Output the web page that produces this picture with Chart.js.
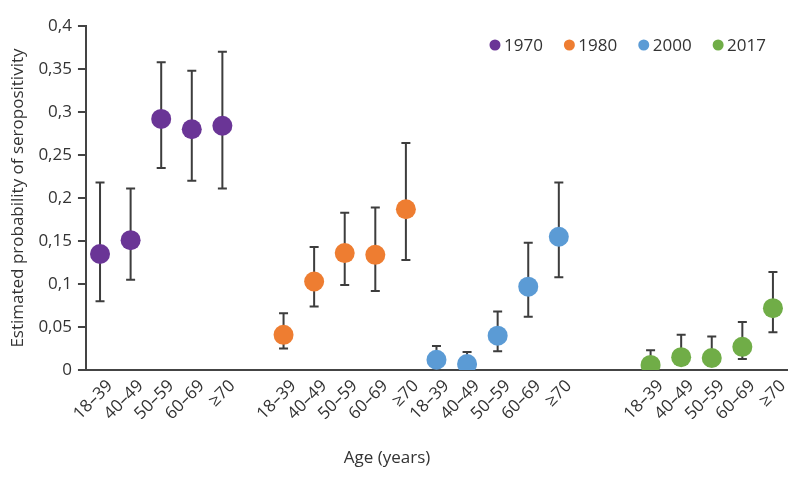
<!DOCTYPE html>
<html>
<head>
<meta charset="utf-8">
<script src="https://cdn.jsdelivr.net/npm/chart.js@4/dist/chart.umd.min.js"></script>
<style>
  html, body { margin: 0; padding: 0; background: #fff; }
  #wrap { width: 800px; height: 492px; }
</style>
</head>
<body>
<div id="wrap"><canvas id="myChart"></canvas></div>
<script>
// age groups shown for every survey year
const ageLabels = ["18–39", "40–49", "50–59", "60–69", "≥70"];
const years = ["1970", "1980", "2000", "2017"];
// first slot of each year group on the x axis
const groupStart = [0, 6, 11, 18];

const est1970 = [0.135, 0.151, 0.292, 0.280, 0.284];
const low1970 = [0.080, 0.105, 0.235, 0.220, 0.211];
const high1970 = [0.218, 0.211, 0.358, 0.348, 0.370];

const est1980 = [0.041, 0.103, 0.136, 0.134, 0.187];
const low1980 = [0.025, 0.074, 0.099, 0.092, 0.128];
const high1980 = [0.066, 0.143, 0.183, 0.189, 0.264];

const est2000 = [0.012, 0.007, 0.040, 0.097, 0.155];
const low2000 = [0.004, 0.002, 0.022, 0.062, 0.108];
const high2000 = [0.028, 0.021, 0.068, 0.148, 0.218];

const est2017 = [0.006, 0.015, 0.014, 0.027, 0.072];
const low2017 = [0.001, 0.006, 0.005, 0.013, 0.044];
const high2017 = [0.023, 0.041, 0.039, 0.056, 0.114];

const yTicks = [0, 0.05, 0.1, 0.15, 0.2, 0.25, 0.3, 0.35, 0.4];

const colors = ["#6a3596", "#ee7d31", "#5b9bd5", "#70ad47"];
const ests = [est1970, est1980, est2000, est2017];
const lows = [low1970, low1980, low2000, low2017];
const highs = [high1970, high1980, high2000, high2017];

const FONT = "'Open Sans', 'Noto Sans', sans-serif";

let tickPos = [];
let tickText = {};
groupStart.forEach((g) => {
  ageLabels.forEach((a, i) => {
    tickPos.push(g + i);
    tickText[g + i] = a;
  });
});

let datasets = years.map((y, k) => ({
  label: y,
  data: ests[k].map((v, i) => ({ x: groupStart[k] + i, y: v })),
  low: lows[k],
  high: highs[k],
  showLine: false,
  pointRadius: 10,
  pointHoverRadius: 10,
  pointBackgroundColor: colors[k],
  pointBorderWidth: 0,
  backgroundColor: colors[k],
  borderColor: colors[k],
}));

const errorBars = {
  id: "errorBars",
  beforeDatasetsDraw(chart) {
    const ctx = chart.ctx;
    const xs = chart.scales.x;
    const ys = chart.scales.y;
    ctx.save();
    ctx.strokeStyle = "#3d3d3d";
    ctx.lineWidth = 2;
    chart.data.datasets.forEach((ds) => {
      ds.data.forEach((p, i) => {
        let x = xs.getPixelForValue(p.x);
        let top = ys.getPixelForValue(ds.high[i]);
        let bot = ys.getPixelForValue(ds.low[i]);
        ctx.beginPath();
        ctx.moveTo(x, top);
        ctx.lineTo(x, bot);
        ctx.moveTo(x - 4.5, top);
        ctx.lineTo(x + 4.5, top);
        ctx.moveTo(x - 4.5, bot);
        ctx.lineTo(x + 4.5, bot);
        ctx.stroke();
      });
    });
    ctx.restore();
  },
};

// legend row in the top right of the plot, and the x axis title
const extras = {
  id: "extras",
  afterDraw(chart) {
    const ctx = chart.ctx;
    const area = chart.chartArea;
    ctx.save();
    ctx.font = "17px " + FONT;
    ctx.textBaseline = "middle";
    let y = area.top + 19;
    let x = area.right - 21;
    let items = chart.data.datasets.slice().reverse();
    items.forEach((ds) => {
      let w = ctx.measureText(ds.label).width;
      ctx.fillStyle = "#333";
      ctx.textAlign = "left";
      ctx.fillText(ds.label, x - w, y + 1);
      ctx.fillStyle = ds.pointBackgroundColor;
      ctx.beginPath();
      ctx.arc(x - w - 9, y, 5.5, 0, Math.PI * 2);
      ctx.fill();
      x = x - w - 9 - 5.5 - 21;
    });
    ctx.fillStyle = "#333";
    ctx.textAlign = "center";
    ctx.textBaseline = "alphabetic";
    ctx.fillText("Age (years)", 387, 463);
    ctx.restore();
  },
};

Chart.defaults.font.family = FONT;
Chart.defaults.color = "#333";

var ctx = document.getElementById("myChart").getContext("2d");
var myChart = new Chart(ctx, {
  type: "scatter",
  data: { datasets: datasets },
  plugins: [errorBars, extras],
  options: {
    responsive: true,
    maintainAspectRatio: false,
    animation: false,
    layout: { padding: { top: 26, right: 13, bottom: 62, left: 4 } },
    plugins: {
      tooltip: { enabled: false },
      legend: { display: false },
    },
    scales: {
      x: {
        type: "linear",
        min: -0.46,
        max: 22.46,
        afterBuildTicks: (axis) => {
          axis.ticks = tickPos.map((v) => ({ value: v }));
        },
        ticks: {
          autoSkip: false,
          minRotation: 45,
          maxRotation: 45,
          padding: 6,
          labelOffset: 10,
          font: { size: 17 },
          color: "#333",
          callback: (v) => tickText[v] || "",
        },
        grid: { display: false, drawTicks: false },
        border: { display: true, color: "#444", width: 2 },
      },
      y: {
        min: 0,
        max: 0.4,
        afterBuildTicks: (axis) => {
          axis.ticks = yTicks.map((v) => ({ value: v }));
        },
        ticks: {
          padding: 6,
          font: { size: 17 },
          color: "#333",
          callback: (v) => String(Math.round(v * 100) / 100).replace(".", ","),
        },
        grid: { drawOnChartArea: false, tickLength: 8, color: "#444", lineWidth: 2 },
        border: { display: true, color: "#444", width: 2 },
        title: {
          display: true,
          text: "Estimated probability of seropositivity",
          font: { size: 17 },
          color: "#333",
          padding: { bottom: 4 },
        },
      },
    },
  },
});
</script>
</body>
</html>
